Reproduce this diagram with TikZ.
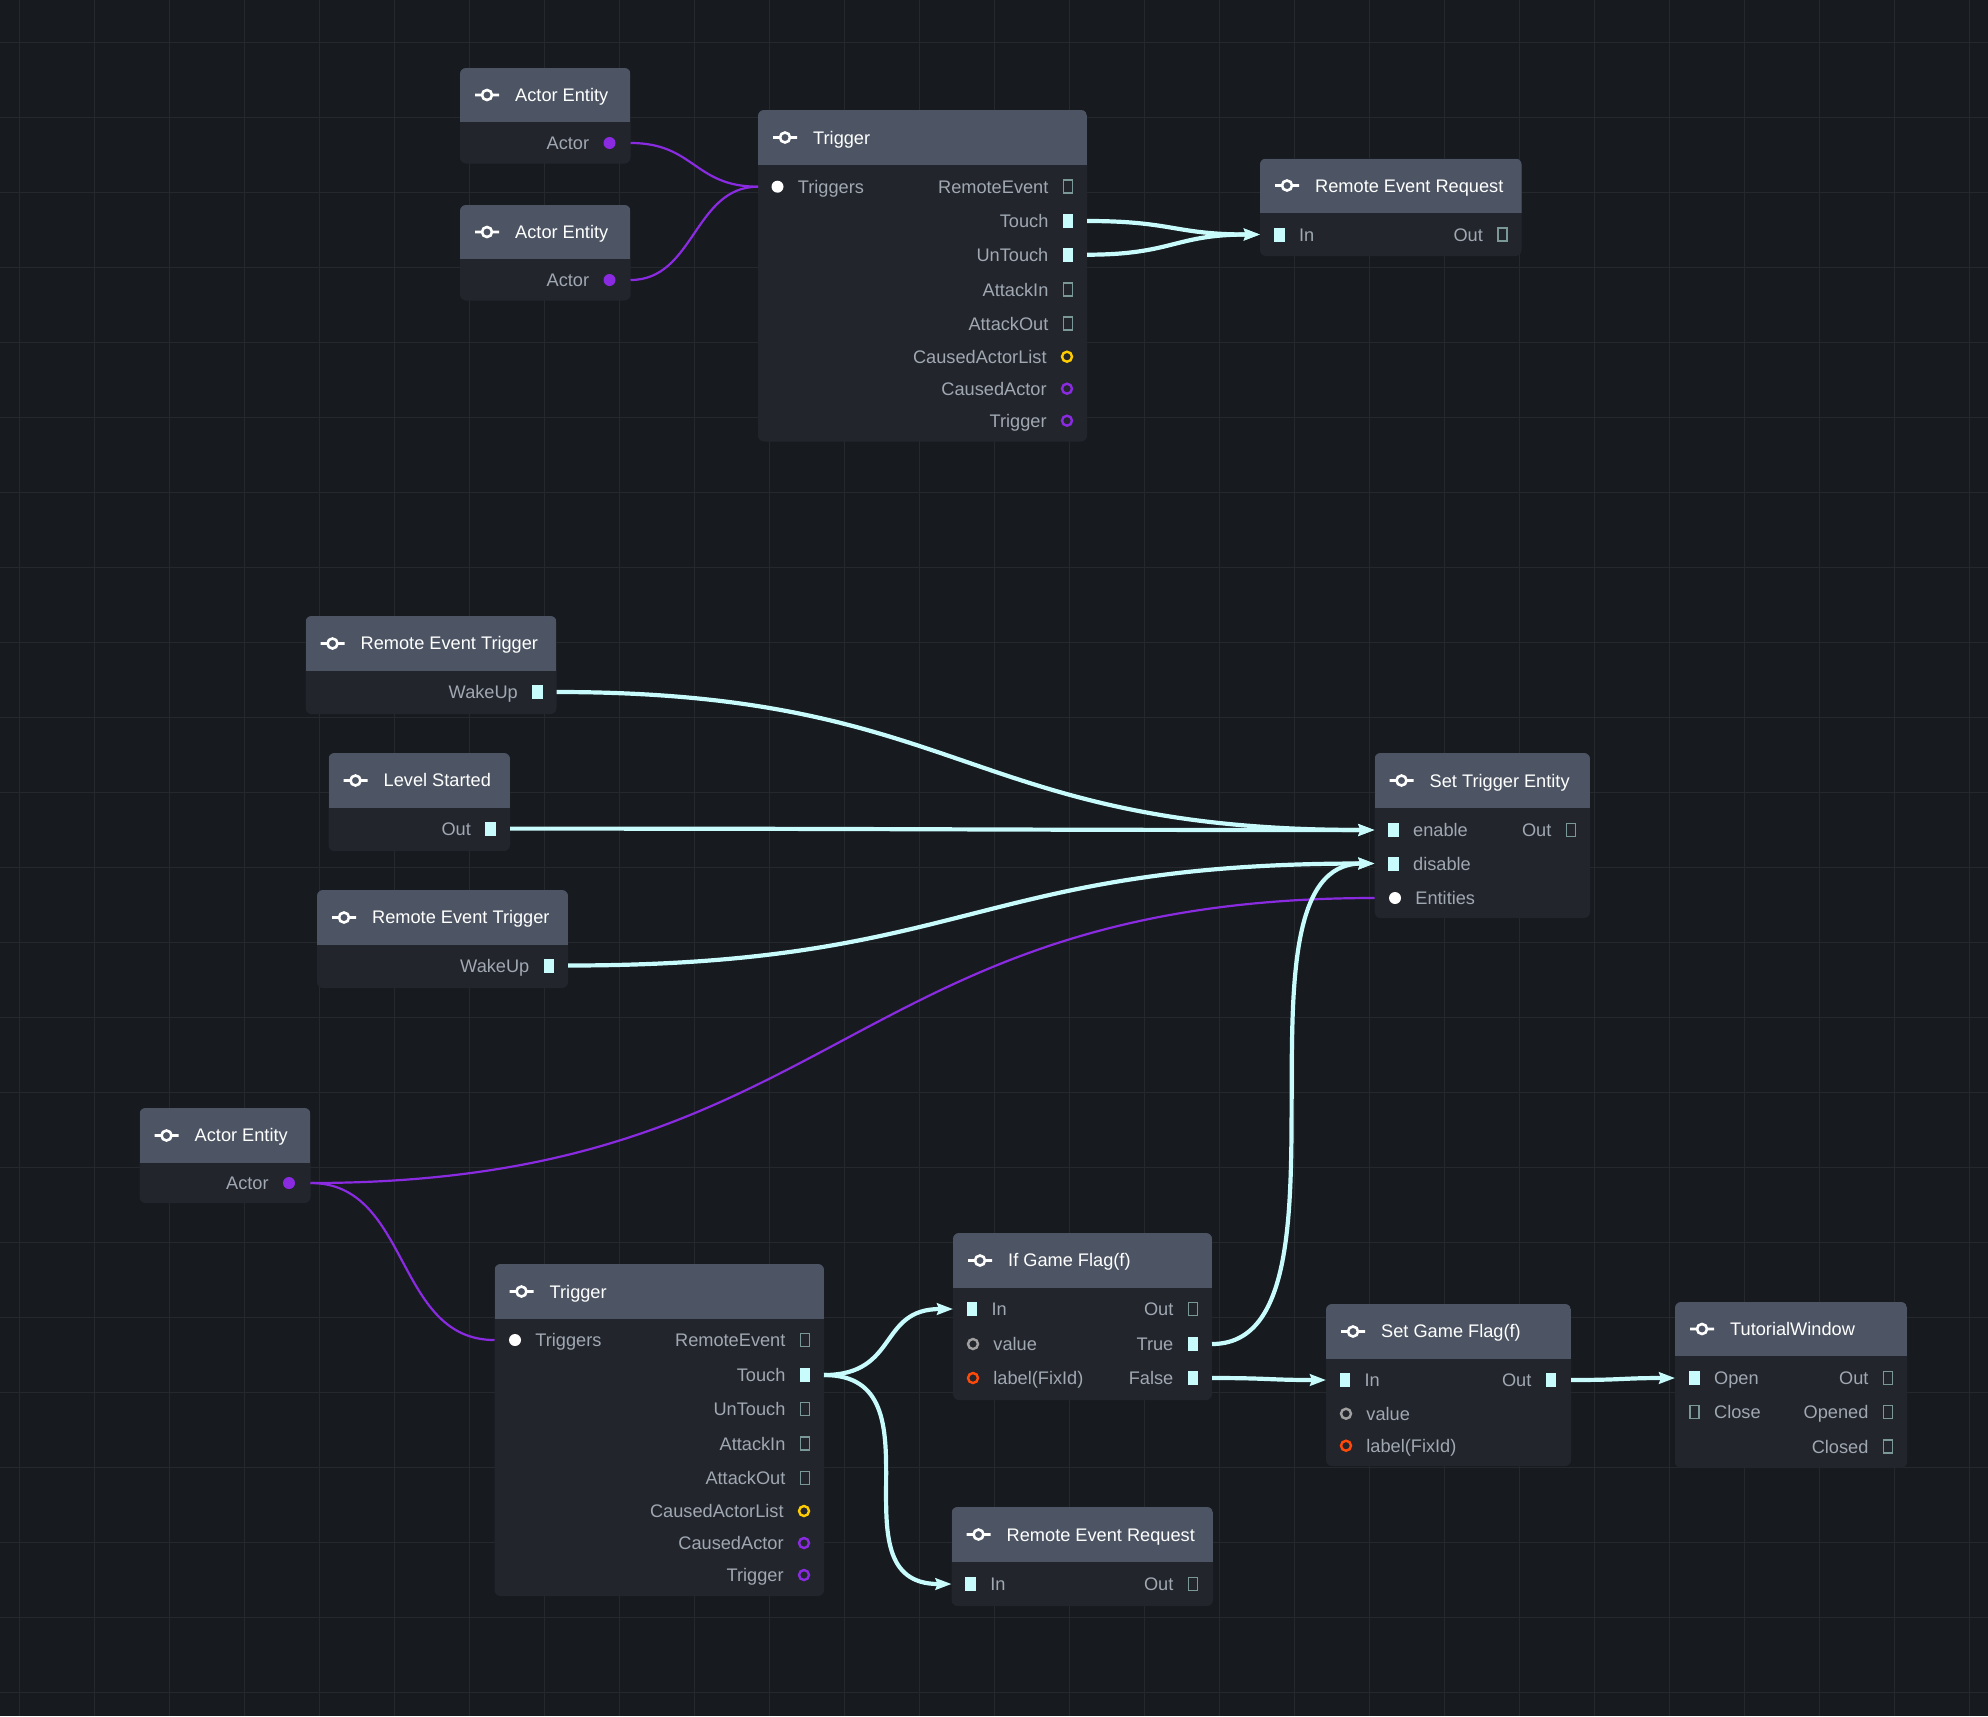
\documentclass[tikz,border=0pt]{standalone}
\usepackage{fontspec}
\setmainfont{Liberation Sans}
\usetikzlibrary{arrows.meta}

\definecolor{canvas}{HTML}{171A1F}
\definecolor{gridcol}{HTML}{25282D}
\definecolor{cardcol}{HTML}{22252C}
\definecolor{headcol}{HTML}{4D5564}
\definecolor{textcol}{HTML}{A0A8B2}
\definecolor{flowcol}{HTML}{C8FBFB}
\definecolor{opencol}{HTML}{7A9898}
\definecolor{actorcol}{HTML}{8A2BE2}
\definecolor{listcol}{HTML}{FFCC00}
\definecolor{labelcol}{HTML}{FF4A0A}
\definecolor{valuecol}{HTML}{A0A0A0}

\begin{document}
\begin{tikzpicture}[
    x=1pt, y=-1pt,
    card/.style n args={3}{rectangle, rounded corners=6pt, fill=cardcol, anchor=north west,
        inner sep=0pt, outer sep=0pt, minimum width=#1, minimum height=#2,
        path picture={
            \fill[headcol, sharp corners] (path picture bounding box.north west) rectangle
                ([yshift=-#3pt]path picture bounding box.north east);
            \draw[white, line width=2.6pt, sharp corners]
                ([shift={(27,#3/2)}]path picture bounding box.north west) ++(-12,0) -- ++(7,0)
                ++(5,0) circle[radius=5] ++(5,0) -- ++(7,0);
        }},
    title/.style={anchor=west, inner sep=0pt, text=white, text height=15pt, text depth=2pt,
        font=\fontsize{18.2}{22}\selectfont},
    portlabel/.style={inner sep=0pt, text=textcol, text height=15pt, text depth=2pt,
        font=\fontsize{18.2}{22}\selectfont},
    label distance=14pt,
    portfull/.style={rectangle, fill=flowcol, inner sep=0pt, minimum width=10.5pt, minimum height=14pt},
    portopen/.style={rectangle, draw=opencol, line width=1.8pt, inner sep=0pt, minimum width=9pt, minimum height=13pt},
    dotfull/.style={circle, fill=#1, inner sep=0pt, minimum size=12pt},
    dotring/.style={circle, draw=#1, line width=2.4pt, inner sep=0pt, minimum size=10pt},
    flow/.style={draw=flowcol, line width=4.2pt, -{Stealth[length=16pt, width=11.5pt, inset=2pt]}},
    actorwire/.style={draw=actorcol, line width=2.2pt}]

% canvas and grid
\fill[canvas] (0,0) rectangle (1988,1716);
\useasboundingbox (0,0) rectangle (1988,1716);
\foreach \x in {0,...,26} \draw[gridcol, line width=1pt] (19.5+75*\x,0) -- (19.5+75*\x,1716);
\foreach \y in {0,...,22} \draw[gridcol, line width=1pt] (0,42+75*\y) -- (1988,42+75*\y);

% upper group
\node[card={170.5}{95.5}{54}] (actorA) at (460,68) {};
\node[title] (actorAtitle) at ([shift={(55,27)}]actorA.north west) {Actor Entity};
\node[dotfull=actorcol, label={[portlabel]left:Actor}] (actorAout) at (609.5,143) {};

\node[card={170.5}{95.5}{54}] (actorB) at (460,205) {};
\node[title] (actorBtitle) at ([shift={(55,27)}]actorB.north west) {Actor Entity};
\node[dotfull=actorcol, label={[portlabel]left:Actor}] (actorBout) at (609.5,280) {};

\node[card={329}{331.5}{55}] (triggerA) at (758,110) {};
\node[title] (triggerAtitle) at ([shift={(55,27.5)}]triggerA.north west) {Trigger};
\node[dotfull=white, label={[portlabel]right:Triggers}] (triggerAin) at (777.5,186.7) {};
\node[portopen, label={[portlabel]left:RemoteEvent}] (triggerAevent) at (1068,186.7) {};
\node[portfull, label={[portlabel]left:Touch}] (triggerAtouch) at (1068,221) {};
\node[portfull, label={[portlabel]left:UnTouch}] (triggerAuntouch) at (1068,254.7) {};
\node[portopen, label={[portlabel]left:AttackIn}] (triggerAatkin) at (1068,289.7) {};
\node[portopen, label={[portlabel]left:AttackOut}] (triggerAatkout) at (1068,323.7) {};
\node[dotring=listcol, label={[portlabel]left:CausedActorList}] (triggerAlist) at (1067,356.7) {};
\node[dotring=actorcol, label={[portlabel]left:CausedActor}] (triggerAcaused) at (1067,388.7) {};
\node[dotring=actorcol, label={[portlabel]left:Trigger}] (triggerAself) at (1067,420.7) {};

\node[card={261.5}{97.5}{54}] (requestA) at (1260,158.5) {};
\node[title] (requestAtitle) at ([shift={(55,27)}]requestA.north west) {Remote Event Request};
\node[portfull, label={[portlabel]right:In}] (requestAin) at (1279.5,234.5) {};
\node[portopen, label={[portlabel]left:Out}] (requestAout) at (1502.5,234.5) {};

% middle group
\node[card={251}{98}{55}] (wakeA) at (305.5,616) {};
\node[title] (wakeAtitle) at ([shift={(55,27)}]wakeA.north west) {Remote Event Trigger};
\node[portfull, label={[portlabel]left:WakeUp}] (wakeAout) at (537.5,692) {};

\node[card={181.5}{98}{55}] (level) at (328.5,753) {};
\node[title] (leveltitle) at ([shift={(55,27)}]level.north west) {Level Started};
\node[portfull, label={[portlabel]left:Out}] (levelout) at (490.5,828.6) {};

\node[card={251}{98}{55}] (wakeB) at (317,890) {};
\node[title] (wakeBtitle) at ([shift={(55,27)}]wakeB.north west) {Remote Event Trigger};
\node[portfull, label={[portlabel]left:WakeUp}] (wakeBout) at (549,965.5) {};

\node[card={215.5}{165}{55}] (setter) at (1374.5,753) {};
\node[title] (settertitle) at ([shift={(55,28)}]setter.north west) {Set Trigger Entity};
\node[portfull, label={[portlabel]right:enable}] (setteron) at (1393.5,830) {};
\node[portopen, label={[portlabel]left:Out}] (setterout) at (1571,830) {};
\node[portfull, label={[portlabel]right:disable}] (setteroff) at (1393.5,863.5) {};
\node[dotfull=white, label={[portlabel]right:Entities}] (setterlist) at (1395,898) {};

% lower group
\node[card={171}{95}{55}] (actorC) at (139.5,1108) {};
\node[title] (actorCtitle) at ([shift={(55,27)}]actorC.north west) {Actor Entity};
\node[dotfull=actorcol, label={[portlabel]left:Actor}] (actorCout) at (289,1183) {};

\node[card={329.5}{332}{55}] (triggerB) at (494.5,1264) {};
\node[title] (triggerBtitle) at ([shift={(55,28)}]triggerB.north west) {Trigger};
\node[dotfull=white, label={[portlabel]right:Triggers}] (triggerBin) at (515,1340) {};
\node[portopen, label={[portlabel]left:RemoteEvent}] (triggerBevent) at (805,1340) {};
\node[portfull, label={[portlabel]left:Touch}] (triggerBtouch) at (805,1375) {};
\node[portopen, label={[portlabel]left:UnTouch}] (triggerBuntouch) at (805,1409) {};
\node[portopen, label={[portlabel]left:AttackIn}] (triggerBatkin) at (805,1443.5) {};
\node[portopen, label={[portlabel]left:AttackOut}] (triggerBatkout) at (805,1478) {};
\node[dotring=listcol, label={[portlabel]left:CausedActorList}] (triggerBlist) at (804,1511) {};
\node[dotring=actorcol, label={[portlabel]left:CausedActor}] (triggerBcaused) at (804,1543) {};
\node[dotring=actorcol, label={[portlabel]left:Trigger}] (triggerBself) at (804,1575) {};

\node[card={259}{167}{55}] (flagif) at (953,1233) {};
\node[title] (flagiftitle) at ([shift={(55,27)}]flagif.north west) {If Game Flag(f)};
\node[portfull, label={[portlabel]right:In}] (flagifin) at (972,1309) {};
\node[portopen, label={[portlabel]left:Out}] (flagifout) at (1193,1309) {};
\node[dotring=valuecol, label={[portlabel]right:value}] (flagifvalue) at (973,1344) {};
\node[portfull, label={[portlabel]left:True}] (flagiftrue) at (1193,1344) {};
\node[dotring=labelcol, label={[portlabel]right:label(FixId)}] (flagiflabel) at (973,1378) {};
\node[portfull, label={[portlabel]left:False}] (flagiffalse) at (1193,1378) {};

\node[card={245}{162}{55}] (flagset) at (1326,1304) {};
\node[title] (flagsettitle) at ([shift={(55,27)}]flagset.north west) {Set Game Flag(f)};
\node[portfull, label={[portlabel]right:In}] (flagsetin) at (1345,1380) {};
\node[portfull, label={[portlabel]left:Out}] (flagsetout) at (1551,1380) {};
\node[dotring=valuecol, label={[portlabel]right:value}] (flagsetvalue) at (1346,1413.7) {};
\node[dotring=labelcol, label={[portlabel]right:label(FixId)}] (flagsetlabel) at (1346,1445.7) {};

\node[card={232}{166}{54}] (tutorial) at (1675,1302) {};
\node[title] (tutorialtitle) at ([shift={(55,27)}]tutorial.north west) {TutorialWindow};
\node[portfull, label={[portlabel]right:Open}] (tutorialopen) at (1694.5,1378) {};
\node[portopen, label={[portlabel]left:Out}] (tutorialout) at (1888,1378) {};
\node[portopen, label={[portlabel]right:Close}] (tutorialclose) at (1694.5,1412) {};
\node[portopen, label={[portlabel]left:Opened}] (tutorialopened) at (1888,1412) {};
\node[portopen, label={[portlabel]left:Closed}] (tutorialclosed) at (1888,1446.7) {};

\node[card={261.5}{99}{55}] (requestB) at (951.5,1507) {};
\node[title] (requestBtitle) at ([shift={(55,28)}]requestB.north west) {Remote Event Request};
\node[portfull, label={[portlabel]right:In}] (requestBin) at (970.6,1584) {};
\node[portopen, label={[portlabel]left:Out}] (requestBout) at (1193,1584) {};

% actor wires
\draw[actorwire] (actorA.east |- actorAout) .. controls +(64,0) and +(-64,0) .. (triggerA.west |- triggerAin);
\draw[actorwire] (actorB.east |- actorBout) .. controls +(64,0) and +(-64,0) .. (triggerA.west |- triggerAin);
\draw[actorwire] (actorC.east |- actorCout) .. controls +(530,0) and +(-530,0) .. (setter.west |- setterlist);
\draw[actorwire] (actorC.east |- actorCout) .. controls +(100,0) and +(-100,0) .. (triggerB.west |- triggerBin);

% execution wires
\draw[flow] (triggerA.east |- triggerAtouch) .. controls +(86,0) and +(-86,0) .. (requestA.west |- requestAin);
\draw[flow] (triggerA.east |- triggerAuntouch) .. controls +(86,0) and +(-86,0) .. (requestA.west |- requestAin);
\draw[flow] (wakeA.east |- wakeAout) .. controls +(410,0) and +(-410,0) .. (setter.west |- setteron);
\draw[flow] (level.east |- levelout) .. controls +(430,0) and +(-430,0) .. (setter.west |- setteron);
\draw[flow] (wakeB.east |- wakeBout) .. controls +(400,0) and +(-400,0) .. (setter.west |- setteroff);
\draw[flow] (flagif.east |- flagiftrue) .. controls +(155,0) and +(-155,0) .. (setter.west |- setteroff);
\draw[flow] (triggerB.east |- triggerBtouch) .. controls +(75,0) and +(-75,0) .. (flagif.west |- flagifin);
\draw[flow] (triggerB.east |- triggerBtouch) .. controls +(122,0) and +(-122,0) .. (requestB.west |- requestBin);
\draw[flow] (flagif.east |- flagiffalse) .. controls +(57,0) and +(-57,0) .. (flagset.west |- flagsetin);
\draw[flow] (flagset.east |- flagsetout) .. controls +(52,0) and +(-52,0) .. (tutorial.west |- tutorialopen);

\end{tikzpicture}
\end{document}
